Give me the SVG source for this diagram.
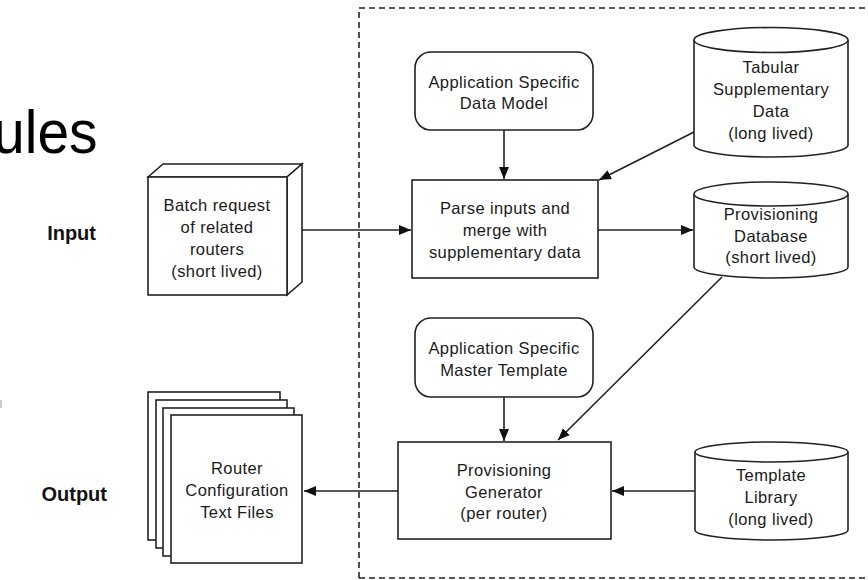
<svg xmlns="http://www.w3.org/2000/svg" width="868" height="580" viewBox="0 0 868 580">
<defs>
<marker id="arr" viewBox="0 0 12 10" refX="12" refY="5" markerWidth="12" markerHeight="10" markerUnits="userSpaceOnUse" orient="auto">
<path d="M0,0 L12,5 L0,10 Z" fill="#111"/>
</marker>
<style>
.s{fill:#fff;stroke:#222;stroke-width:1.6}
.t{font-family:"Liberation Sans",Arial,sans-serif;font-size:16.5px;letter-spacing:0.4px;fill:#1a1a1a;text-anchor:middle;dominant-baseline:central}
.lab{font-family:"Liberation Sans",Arial,sans-serif;font-size:20px;font-weight:bold;fill:#111;text-anchor:end}
.c{fill:none;stroke:#222;stroke-width:1.6}
</style>
</defs>
<rect width="868" height="580" fill="#fff"/>
<text transform="translate(-7,153) scale(0.92,1)" font-family="'Liberation Sans',Arial,sans-serif" font-size="62" fill="#000">ules</text>
<line x1="1" y1="400" x2="1" y2="408" stroke="#bbb" stroke-width="1.5"/>
<text class="lab" x="96" y="240">Input</text>
<text class="lab" x="107" y="501">Output</text>
<path d="M359,578 L359,8 L872,8 M359,578 L872,578" fill="none" stroke="#222" stroke-width="1.6" stroke-dasharray="6 4"/>

<g id="connectors">
<line class="c" x1="302" y1="230" x2="411" y2="230" marker-end="url(#arr)"/>
<line class="c" x1="504" y1="130" x2="504" y2="179" marker-end="url(#arr)"/>
<line class="c" x1="694" y1="132" x2="599" y2="180" marker-end="url(#arr)"/>
<line class="c" x1="598" y1="230" x2="693" y2="230" marker-end="url(#arr)"/>
<line class="c" x1="722" y1="277" x2="558" y2="440" marker-end="url(#arr)"/>
<line class="c" x1="504" y1="397" x2="504" y2="441" marker-end="url(#arr)"/>
<line class="c" x1="695" y1="491" x2="612" y2="491" marker-end="url(#arr)"/>
<line class="c" x1="398" y1="491" x2="304" y2="491" marker-end="url(#arr)"/>
</g>

<g id="batch">
<path class="s" d="M148,177 L163,164 L302,164 L287,177 Z"/>
<path class="s" d="M287,177 L302,164 L302,282 L287,295 Z"/>
<rect class="s" x="148" y="177" width="139" height="118"/>
<text class="t" x="217" y="205">Batch request</text>
<text class="t" x="217" y="227">of related</text>
<text class="t" x="217" y="249">routers</text>
<text class="t" x="217" y="271">(short lived)</text>
</g>

<g id="dataModel">
<rect class="s" x="415" y="52" width="178" height="78" rx="16"/>
<text class="t" x="504" y="82">Application Specific</text>
<text class="t" x="504" y="103">Data Model</text>
</g>

<g id="parse">
<rect class="s" x="412" y="180" width="186" height="98"/>
<text class="t" x="505" y="208">Parse inputs and</text>
<text class="t" x="505" y="230">merge with</text>
<text class="t" x="505" y="252">supplementary data</text>
</g>

<g id="tabular">
<path class="s" d="M694,40 L694,145 A77,12 0 0 0 848,145 L848,40"/>
<ellipse class="s" cx="771" cy="40" rx="77" ry="12.5"/>
<text class="t" x="771" y="67">Tabular</text>
<text class="t" x="771" y="89">Supplementary</text>
<text class="t" x="771" y="111">Data</text>
<text class="t" x="771" y="133">(long lived)</text>
</g>

<g id="provDB">
<path class="s" d="M694,194 L694,267 A77,11 0 0 0 848,267 L848,194"/>
<ellipse class="s" cx="771" cy="194" rx="77" ry="12"/>
<text class="t" x="771" y="214">Provisioning</text>
<text class="t" x="771" y="236">Database</text>
<text class="t" x="771" y="257">(short lived)</text>
</g>

<g id="masterTemplate">
<rect class="s" x="415" y="318" width="178" height="79" rx="16"/>
<text class="t" x="504" y="348">Application Specific</text>
<text class="t" x="504" y="370">Master Template</text>
</g>

<g id="generator">
<rect class="s" x="398" y="442" width="213" height="97"/>
<text class="t" x="504" y="470">Provisioning</text>
<text class="t" x="504" y="492">Generator</text>
<text class="t" x="504" y="513">(per router)</text>
</g>

<g id="templateLib">
<path class="s" d="M695,452 L695,530 A76.5,10 0 0 0 848,530 L848,452"/>
<ellipse class="s" cx="771.5" cy="452" rx="76.5" ry="10"/>
<text class="t" x="771" y="475">Template</text>
<text class="t" x="771" y="497">Library</text>
<text class="t" x="771" y="519">(long lived)</text>
</g>

<g id="routerConfig">
<rect class="s" x="148" y="392" width="132" height="148"/>
<rect class="s" x="156" y="400" width="131" height="148"/>
<rect class="s" x="163" y="408" width="131" height="148"/>
<rect class="s" x="171" y="415" width="131" height="148"/>
<text class="t" x="237" y="468">Router</text>
<text class="t" x="237" y="490">Configuration</text>
<text class="t" x="237" y="512">Text Files</text>
</g>
</svg>
